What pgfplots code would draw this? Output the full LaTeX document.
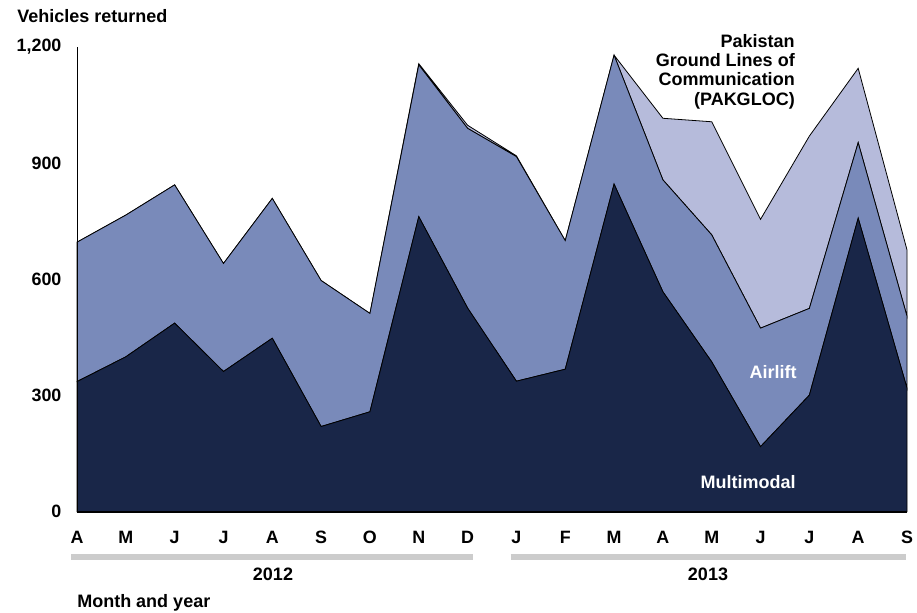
\documentclass[border=0pt]{standalone}
\usepackage{pgfplots}
\pgfplotsset{compat=1.18}
\usepackage{pgfplotstable}
\usepackage{fontspec}
\setmainfont{Liberation Sans}
\definecolor{multi}{RGB}{25,38,72}
\definecolor{air}{RGB}{121,138,186}
\definecolor{pak}{RGB}{182,187,219}
\definecolor{bar}{RGB}{204,204,204}
\pgfplotstableread{
x m a p
0 336 360 0
1 400 366 0
2 487 357 0
3 362 279 0
4 448 361 0
5 220 377 0
6 258 254 0
7 762 392 3
8 526 464 8
9 337 580 2
10 368 332 0
11 846 333 0
12 568 289 159
13 387 328 292
14 168 306 281
15 301 224 445
16 758 195 192
17 319 186 171
}\data
\begin{document}
\begin{tikzpicture}[x=0.75pt,y=0.75pt]
\useasboundingbox (0,0) rectangle (917,613);
\begin{axis}[at={(57.75pt,75.975pt)}, anchor=south west, scale only axis,
  width=622.5pt, height=348.5pt,
  xmin=0, xmax=17, ymin=0, ymax=1200,
  stack plots=y,
  axis x line*=bottom, axis y line*=left,
  x axis line style={line width=1.6pt, -},
  y axis line style={line width=0.6pt, -},
  axis on top=true,
  major tick length=0pt,
  xtick={0,...,17},
  xticklabels={A,M,J,J,A,S,O,N,D,J,F,M,A,M,J,J,A,S},
  ytick={0,300,600,900,1200},
  /pgf/number format/assume math mode=true,
  /pgf/number format/1000 sep={,},
  ticklabel style={font=\fontsize{13.4}{15}\selectfont\bfseries},
  xticklabel style={anchor=north, inner sep=0pt, yshift=-14.5pt},
  yticklabel style={anchor=east, inner sep=0pt, xshift=-11.5pt},
  clip=false,
]
\addplot[fill=multi, draw=black, line width=0.6pt] table[x=x,y=m]{\data} \closedcycle;
\addplot[fill=air, draw=black, line width=0.6pt] table[x=x,y=a]{\data} \closedcycle;
\addplot[fill=pak, draw=black, line width=0.6pt] table[x=x,y=p]{\data} \closedcycle;
\end{axis}
\node[anchor=west, inner sep=0pt, font=\fontsize{13.5}{15}\selectfont\bfseries] at (17,597) {Vehicles returned};
\node[anchor=east, align=right, inner sep=0pt, font=\fontsize{13.5}{14.5}\selectfont\bfseries] at (795,541.5) {Pakistan\\Ground Lines of\\Communication\\(PAKGLOC)};
\node[text=white, inner sep=0pt, font=\fontsize{13.5}{15}\selectfont\bfseries] at (773,241) {Airlift};
\node[text=white, inner sep=0pt, font=\fontsize{13.5}{15}\selectfont\bfseries] at (748,131) {Multimodal};
\draw[bar, line width=4.5pt] (71,56.3) -- (473,56.3);
\draw[bar, line width=4.5pt] (510.7,56.3) -- (906,56.3);
\node[inner sep=0pt, font=\fontsize{13.5}{15}\selectfont\bfseries] at (273,39) {2012};
\node[inner sep=0pt, font=\fontsize{13.5}{15}\selectfont\bfseries] at (708,39) {2013};
\node[anchor=west, inner sep=0pt, font=\fontsize{13.5}{15}\selectfont\bfseries] at (77,10) {Month and year};
\end{tikzpicture}
\end{document}
